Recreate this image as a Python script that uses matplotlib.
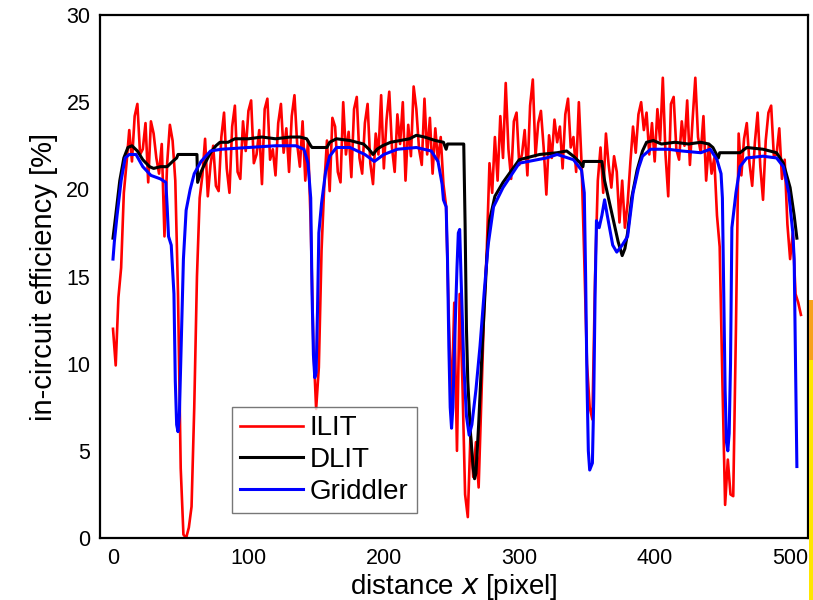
import numpy as np
import matplotlib
matplotlib.use("Agg")
import matplotlib.pyplot as plt
from matplotlib.patches import Rectangle

plt.rcParams['font.family'] = ['Liberation Sans', 'DejaVu Sans']

# ILIT (red), sampled every 2 pixels
ilit_x = np.arange(0, 510, 2)
ilit_y = [
    12.0, 9.9, 13.8, 15.5, 19.8, 21.5,                                   # 0-10
    23.4, 21.6, 24.2, 24.9, 22.0, 22.3, 23.8, 20.4, 23.9, 23.2,          # 12-30
    21.8, 20.9, 22.6, 17.3, 21.5, 23.7, 22.8, 20.5, 14.0, 4.0,           # 32-50
    0.2, 0.0, 0.6, 1.8, 7.5, 15.0, 19.5,                                 # 52-64
    20.8, 22.9, 19.6, 21.4, 22.5, 20.2, 19.9, 23.0, 24.4, 21.2,          # 66-84
    19.8, 23.6, 24.8, 21.0, 20.6, 23.9, 22.2, 24.5, 25.1, 21.5,          # 86-104
    22.0, 23.4, 20.3, 24.6, 25.2, 21.7, 22.3, 20.8, 23.8, 24.9,          # 106-124
    22.1, 23.5, 21.0, 24.2, 25.4, 22.6, 21.3, 23.9, 20.5, 22.8,          # 126-144
    18.0, 11.0, 7.4, 9.8, 16.5, 20.2,                                    # 146-156
    22.8, 19.9, 24.1, 23.6, 21.0, 20.4, 25.0, 22.0, 23.3, 20.7,          # 158-176
    24.6, 25.3, 21.8, 20.9, 23.8, 24.9, 21.5, 20.3, 23.2, 22.0,          # 178-196
    25.4, 21.2, 24.0, 25.6, 22.4, 21.0, 24.3, 22.6, 25.0, 20.5,          # 198-216
    23.7, 21.9, 25.9, 24.6, 22.3, 21.4, 25.2, 22.0, 24.1, 20.9,          # 218-236
    23.5, 21.6, 23.0, 20.3, 19.0, 12.5, 7.5, 13.5, 5.0, 14.0,            # 238-256
    9.0, 2.5, 1.2, 6.0, 3.5, 5.5, 2.9, 8.0, 13.0, 16.5, 21.5,            # 258-278
    19.8, 23.0, 20.5, 24.2, 21.8, 26.1, 22.3, 20.6, 23.9, 24.4,          # 280-298
    21.4, 22.0, 23.4, 20.8, 24.8, 26.3, 21.9, 23.8, 24.5, 22.4,          # 300-318
    19.7, 23.1, 21.8, 24.0, 22.7, 23.6, 21.2, 24.3, 25.2, 22.4,          # 320-338
    23.0, 21.0, 25.0, 21.5, 16.0, 10.0, 7.5, 6.8, 15.0, 20.5,            # 340-358
    22.4, 19.8, 23.2, 21.4, 20.1, 21.9, 21.0, 18.1, 20.5, 17.8,          # 360-378
    19.2, 21.5, 23.6, 22.1, 24.3, 25.0, 23.4, 24.4, 22.0, 23.8,          # 380-398
    21.6, 24.6, 22.8, 26.4, 22.0, 19.6, 24.9, 25.3, 22.3, 21.7,          # 400-418
    23.9, 22.5, 25.1, 21.4, 24.0, 26.4, 23.0, 22.1, 24.2, 20.5,          # 420-438
    22.6, 20.9, 21.8, 18.5, 16.7, 9.0, 1.9, 4.5, 2.5, 2.4,               # 440-458
    12.0, 23.2, 20.8, 22.9, 23.8, 21.5, 20.2, 22.7, 24.4, 21.3,          # 460-478
    19.4, 22.8, 24.4, 24.8, 21.9, 22.0, 23.5, 20.6, 21.7, 18.0,          # 480-498
    16.0, 17.5, 14.0, 13.5, 12.8,                                        # 500-508
]

# DLIT (black)
dlit_x = [0, 2, 5, 8, 11, 14, 18, 22, 27, 30, 35, 40, 44, 47, 48, 62, 62.5, 65, 68,
          72, 76, 79, 85, 90, 100, 110, 120, 131, 138, 143, 146, 147, 158, 160, 165,
          175, 185, 189, 192, 195, 199, 205, 212, 219, 224, 230, 238, 244, 246, 247,
          259, 260, 261, 262, 264, 266, 267, 268, 270, 273, 276, 278, 282, 288, 300,
          315, 328, 335, 340, 344, 347, 347.5, 361, 363, 365, 369, 373, 376, 378, 380,
          383, 387, 391, 394, 399, 405, 415, 425, 434, 440, 443, 447, 448, 463, 468,
          480, 490, 495, 500, 503, 505]
dlit_y = [17.2, 18.5, 20.5, 21.8, 22.4, 22.5, 22.2, 21.7, 21.3, 21.2, 21.3, 21.3, 21.6,
          21.8, 22.0, 22.0, 20.4, 21.0, 21.5, 22.1, 22.5, 22.7, 22.7, 22.9, 22.9, 23.0,
          22.9, 23.0, 23.0, 22.9, 22.5, 22.4, 22.4, 22.7, 22.9, 22.8, 22.6, 22.3, 22.0,
          22.3, 22.5, 22.7, 22.8, 22.9, 23.1, 23.0, 22.8, 22.7, 22.3, 22.6, 22.6, 18.0,
          12.0, 9.0, 6.0, 4.0, 3.4, 3.7, 6.5, 11.5, 16.0, 18.2, 19.6, 20.4, 21.7, 22.0,
          22.1, 22.2, 21.9, 21.6, 21.3, 21.6, 21.6, 20.5, 19.8, 18.4, 17.0, 16.2, 16.6,
          17.5, 19.5, 21.1, 22.2, 22.7, 22.8, 22.6, 22.7, 22.6, 22.7, 22.6, 22.4, 21.8,
          22.1, 22.1, 22.4, 22.3, 22.1, 21.5, 20.1, 18.5, 17.2]

# Griddler (blue)
grid_x = [0, 1, 3, 6, 9, 12, 17, 22, 28, 35, 39, 40, 41, 43, 45, 46, 47, 48, 49, 50,
          52, 54, 57, 60, 65, 72, 80, 100, 120, 135, 141, 144, 146, 147, 148, 149, 150,
          151, 152, 154, 157, 160, 165, 175, 186, 193, 200, 210, 224, 235, 240, 243,
          244, 246, 247, 248, 249, 250, 251, 252, 253, 254, 255, 256, 257, 259, 261,
          263, 265, 268, 271, 274, 277, 281, 288, 300, 320, 328, 340, 346, 348, 349,
          350, 351, 352, 354, 355, 356, 357, 359, 361, 363, 365, 369, 372, 376, 380,
          384, 388, 391, 397, 410, 420, 434, 441, 446, 449, 450, 451, 452, 453, 454,
          455, 456, 457, 460, 463, 468, 480, 490, 495, 499, 502, 503, 504, 505]
grid_y = [16.0, 17.0, 18.5, 20.5, 21.8, 22.0, 22.0, 21.3, 20.8, 20.6, 20.4, 19.0, 17.3,
          16.8, 14.0, 9.0, 6.5, 6.1, 7.0, 10.0, 16.0, 18.8, 20.0, 20.9, 21.6, 22.2,
          22.3, 22.4, 22.5, 22.5, 22.3, 21.5, 19.5, 14.0, 10.5, 9.2, 9.5, 13.0, 17.5,
          19.2, 21.0, 21.9, 22.4, 22.4, 22.0, 21.6, 22.0, 22.3, 22.4, 22.2, 21.6, 20.3,
          19.4, 19.0, 16.0, 11.0, 7.5, 6.3, 7.5, 10.5, 13.0, 15.5, 17.5, 17.7, 15.0,
          10.0, 7.0, 5.9, 6.5, 8.5, 11.0, 14.0, 16.8, 19.0, 20.1, 21.5, 21.8, 22.0,
          21.7, 21.1, 19.8, 15.0, 9.0, 5.0, 3.9, 4.3, 8.0, 14.0, 18.2, 17.8, 18.5,
          19.4, 18.5, 16.8, 16.4, 16.8, 17.3, 19.8, 21.2, 21.9, 22.3, 22.3, 22.2, 22.1,
          22.3, 21.7, 20.9, 19.5, 14.0, 8.5, 5.5, 5.0, 6.0, 10.0, 17.8, 19.8, 21.3,
          21.8, 21.9, 21.8, 21.3, 19.8, 17.5, 16.0, 10.0, 4.1]

x_ticks = [0, 100, 200, 300, 400, 500]
y_ticks = [0, 5, 10, 15, 20, 25, 30]

fig = plt.figure(figsize=(8.13, 6.0), dpi=100)
ax = fig.add_axes([0.123, 0.1033, 0.871, 0.8717])

ax.plot(ilit_x, ilit_y, color='#ff0000', lw=1.9, label='ILIT')
ax.plot(dlit_x, dlit_y, color='black', lw=2.2, label='DLIT')
ax.plot(grid_x, grid_y, color='#0000ff', lw=2.2, label='Griddler')

ax.set_xlim(-9.6, 513.3)
ax.set_ylim(0, 30)
ax.set_xticks(x_ticks)
ax.set_yticks(y_ticks)
ax.tick_params(length=0, labelsize=15.5, pad=7)
for s in ax.spines.values():
    s.set_linewidth(1.6)

ax.set_xlabel('distance $\\it{x}$ [pixel]', fontsize=20, labelpad=2)
ax.set_ylabel('in-circuit efficiency [%]', fontsize=21, labelpad=6)

leg = ax.legend(loc='lower left', bbox_to_anchor=(0.186, 0.048), fontsize=20,
                frameon=True, fancybox=False, handlelength=2.25, handletextpad=0.25,
                labelspacing=0.2, borderpad=0.3, borderaxespad=0)
leg.get_frame().set_edgecolor('#555555')
leg.get_frame().set_linewidth(1.0)

# cropped neighbouring panel at the right edge
fig.patches.append(Rectangle((0.9955, 0.0), 0.0045, 0.5, transform=fig.transFigure,
                             facecolor='#ffe600', edgecolor='none'))
fig.patches.append(Rectangle((0.9955, 0.40), 0.0045, 0.10, transform=fig.transFigure,
                             facecolor='#f7a21b', edgecolor='none'))

fig.savefig('out.png', dpi=100)
